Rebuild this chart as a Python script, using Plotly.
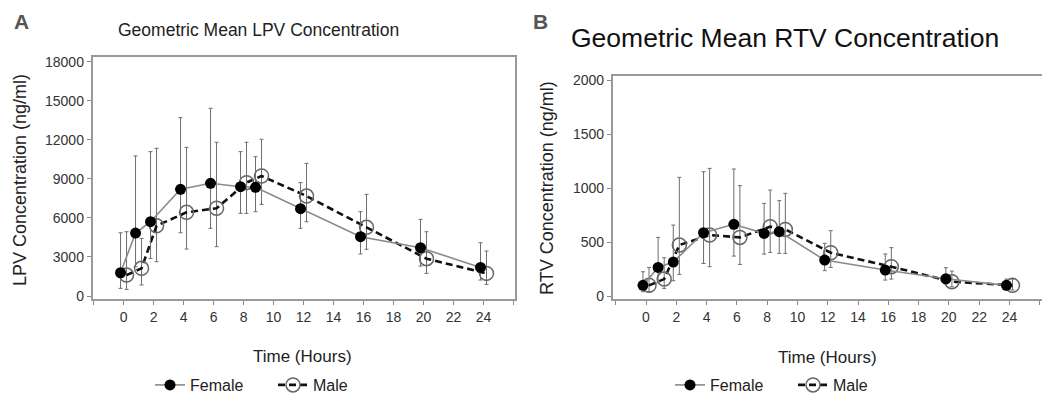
import plotly.graph_objects as go

# ---------------- data ----------------
hours = [0, 1, 2, 4, 6, 8, 9, 12, 16, 20, 24]

lpv_female = [1790, 4840, 5710, 8200, 8660, 8400, 8350, 6710, 4560, 3710, 2200]
lpv_female_hi = [4860, 10760, 11090, 13700, 14420, 11090, 10700, 8710, 6480, 5890, 4100]
lpv_female_lo = [590, 2250, 2890, 4860, 5200, 6350, 6480, 5200, 3230, 2300, 1230]
lpv_male = [1610, 2130, 5400, 6430, 6740, 8710, 9220, 7680, 5280, 2870, 1740]
lpv_male_hi = [4940, 4430, 11350, 11420, 11810, 11810, 12040, 10190, 7810, 4940, 3460]
lpv_male_lo = [510, 850, 2640, 3610, 3790, 6350, 7040, 5710, 3590, 1740, 900]

rtv_female = [99, 265, 315, 586, 664, 580, 596, 333, 241, 160, 99]
rtv_female_hi = [225, 543, 657, 1151, 1176, 858, 883, 488, 389, 262, 157]
rtv_female_lo = [40, 123, 142, 302, 370, 389, 395, 235, 148, 111, 56]
rtv_male = [99, 157, 472, 565, 543, 642, 617, 401, 272, 133, 99]
rtv_male_hi = [265, 355, 1099, 1182, 1022, 981, 951, 605, 448, 231, 157]
rtv_male_lo = [40, 71, 201, 272, 293, 404, 395, 265, 157, 86, 56]

x_tick_vals = list(range(-2, 27, 2))
x_tick_text = ["" if v < 0 or v > 24 else str(v) for v in x_tick_vals]
lpv_ticks = [0, 3000, 6000, 9000, 12000, 15000, 18000]
rtv_ticks = [0, 500, 1000, 1500, 2000]

# ---------------- styling ----------------
PAGE_OFFSET = 8          # default page body margin in the browser
W, H = 1050 - PAGE_OFFSET, 411 - PAGE_OFFSET
FONT = "Liberation Sans, Arial, sans-serif"
DODGE = 0.2
ERR_COLOR = "#6e6e6e"


def px_x(p):
    return (p - PAGE_OFFSET) / W


def px_y(p):
    return 1 - (p - PAGE_OFFSET) / H


def err(mean, hi, lo):
    return dict(
        type="data", symmetric=False,
        array=[h - m for h, m in zip(hi, mean)],
        arrayminus=[m - l for m, l in zip(mean, lo)],
        color=ERR_COLOR, thickness=1, width=2,
    )


fig = go.Figure()


def add_pair(xa, ya, leg, f, fhi, flo, m, mhi, mlo):
    fig.add_trace(go.Scatter(
        x=[h + DODGE for h in hours], y=m, name="Male", mode="lines+markers",
        line=dict(color="#111111", width=2.6, dash="7px,4px"),
        marker=dict(symbol="circle-open", size=14, color="#666666", line=dict(width=1.5)),
        error_y=err(m, mhi, mlo), xaxis=xa, yaxis=ya, legend=leg, legendrank=2,
    ))
    fig.add_trace(go.Scatter(
        x=[h - DODGE for h in hours], y=f, name="Female", mode="lines+markers",
        line=dict(color="#8a8a8a", width=1.6),
        marker=dict(symbol="circle", size=11, color="#000000"),
        error_y=err(f, fhi, flo), xaxis=xa, yaxis=ya, legend=leg, legendrank=1,
    ))


add_pair("x", "y", "legend", lpv_female, lpv_female_hi, lpv_female_lo,
         lpv_male, lpv_male_hi, lpv_male_lo)
add_pair("x2", "y2", "legend2", rtv_female, rtv_female_hi, rtv_female_lo,
         rtv_male, rtv_male_hi, rtv_male_lo)

axis_common = dict(
    showgrid=False, zeroline=False, showline=True, linecolor="#9a9a9a", linewidth=1.5,
    mirror=True, ticks="outside", ticklen=4, tickcolor="#8a8a8a", tickwidth=1,
    tickfont=dict(family=FONT, size=14, color="#333333"), automargin=False,
)

fig.update_layout(
    width=W, height=H, margin=dict(l=0, r=0, t=0, b=0),
    paper_bgcolor="white", plot_bgcolor="white",
    font=dict(family=FONT, color="#222222"),
    xaxis=dict(domain=[px_x(92.5), px_x(515)], range=[-2.07, 26.1],
               tickmode="array", tickvals=x_tick_vals, ticktext=x_tick_text,
               anchor="y", **axis_common),
    yaxis=dict(domain=[px_y(299.3), px_y(57)], range=[-250, 18360],
               tickmode="array", tickvals=lpv_ticks, ticktext=[str(v) for v in lpv_ticks],
               anchor="x", **axis_common),
    xaxis2=dict(domain=[px_x(612.7), px_x(1041.7)], range=[-2.2, 26.13],
                tickmode="array", tickvals=x_tick_vals, ticktext=x_tick_text,
                anchor="y2", **axis_common),
    yaxis2=dict(domain=[px_y(299.3), px_y(76)], range=[-30, 2037],
                tickmode="array", tickvals=rtv_ticks, ticktext=[str(v) for v in rtv_ticks],
                anchor="x2", **axis_common),
    legend=dict(orientation="h", x=px_x(150), y=px_y(385), xanchor="left", yanchor="middle",
                font=dict(family=FONT, size=16, color="#222222"),
                entrywidth=78, entrywidthmode="pixels", bgcolor="rgba(0,0,0,0)",
                traceorder="normal"),
    legend2=dict(orientation="h", x=px_x(670), y=px_y(385), xanchor="left", yanchor="middle",
                 font=dict(family=FONT, size=16, color="#222222"),
                 entrywidth=78, entrywidthmode="pixels", bgcolor="rgba(0,0,0,0)",
                 traceorder="normal"),
    showlegend=True,
)

ann = [
    dict(text="<b>A</b>", x=px_x(21), y=px_y(8.5), yanchor="top",
         font=dict(size=21, color="#555555")),
    dict(text="<b>B</b>", x=px_x(540), y=px_y(8.5), yanchor="top",
         font=dict(size=21, color="#555555")),
    dict(text="Geometric Mean LPV Concentration", x=px_x(258), y=px_y(30),
         font=dict(size=17.5, color="#222222")),
    dict(text="Geometric Mean RTV Concentration", x=px_x(785), y=px_y(38),
         font=dict(size=26.5, color="#111111")),
    dict(text="Time (Hours)", x=px_x(302), y=px_y(356), font=dict(size=17, color="#222222")),
    dict(text="Time (Hours)", x=px_x(827), y=px_y(357), font=dict(size=17, color="#222222")),
    dict(text="LPV Concentration (ng/ml)", x=px_x(20), y=px_y(180), textangle=-90,
         font=dict(size=18, color="#222222")),
    dict(text="RTV Concentration (ng/ml)", x=px_x(547), y=px_y(188), textangle=-90,
         font=dict(size=18, color="#222222")),
]
for a in ann:
    a.setdefault("yanchor", "middle")
    a.update(xref="paper", yref="paper", showarrow=False, xanchor="center")
    a["font"]["family"] = FONT
fig.update_layout(annotations=ann)

fig.write_html("out.html")
